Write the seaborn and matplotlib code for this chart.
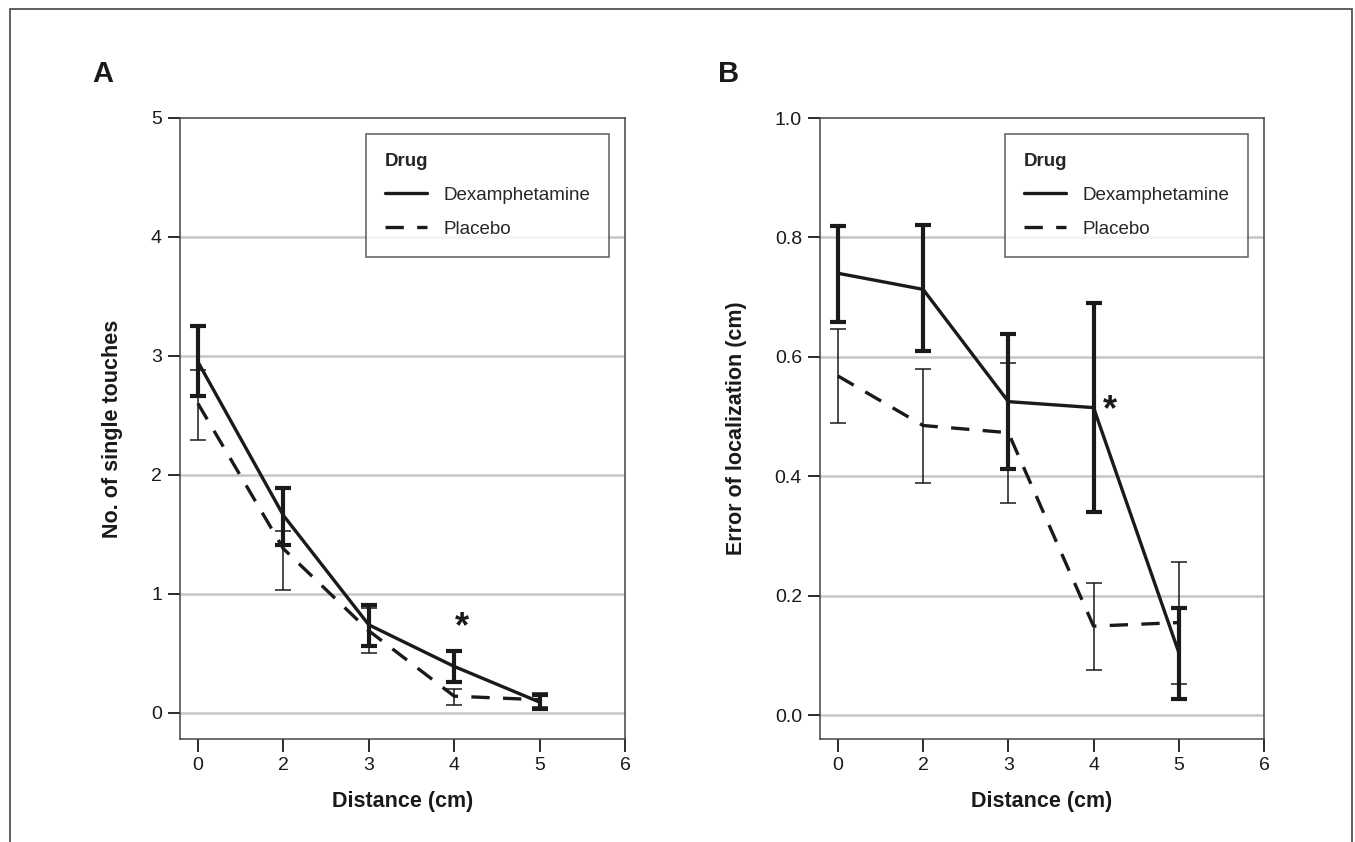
import matplotlib.pyplot as plt
import matplotlib.patches as mpatches
import pandas as pd
import numpy as np
import seaborn as sns

# categories (distance in cm); the axis shows 0,2,3,4,5,6 at evenly spaced positions
tick_labels = ["0", "2", "3", "4", "5", "6"]
distances = ["0", "2", "3", "4", "5"]
drugs = ["Dexamphetamine", "Placebo"]

# Panel A: no. of single touches (mean, upper, lower)
a_dex_mean = [2.95, 1.66, 0.74, 0.39, 0.09]
a_dex_hi = [3.25, 1.89, 0.91, 0.52, 0.15]
a_dex_lo = [2.66, 1.41, 0.56, 0.26, 0.03]
a_pla_mean = [2.60, 1.38, 0.69, 0.14, 0.11]
a_pla_hi = [2.88, 1.53, 0.88, 0.20, 0.17]
a_pla_lo = [2.29, 1.03, 0.50, 0.07, 0.05]

# Panel B: error of localization (cm)
b_dex_mean = [0.74, 0.713, 0.525, 0.515, 0.105]
b_dex_hi = [0.819, 0.82, 0.638, 0.691, 0.18]
b_dex_lo = [0.658, 0.609, 0.413, 0.34, 0.027]
b_pla_mean = [0.568, 0.485, 0.473, 0.149, 0.155]
b_pla_hi = [0.646, 0.58, 0.59, 0.222, 0.257]
b_pla_lo = [0.49, 0.388, 0.356, 0.076, 0.052]

sns.set_theme(style="white")
plt.rcParams['font.family'] = ['Liberation Sans', 'DejaVu Sans']

INK = '#1a1a1a'


def make_df(dex_mean, dex_hi, dex_lo, pla_mean, pla_hi, pla_lo):
    rows = []
    for i, d in enumerate(distances):
        rows.append(dict(pos=i, dist=d, Drug="Dexamphetamine", mean=dex_mean[i], hi=dex_hi[i], lo=dex_lo[i]))
        rows.append(dict(pos=i, dist=d, Drug="Placebo", mean=pla_mean[i], hi=pla_hi[i], lo=pla_lo[i]))
    return pd.DataFrame(rows)


df_a = make_df(a_dex_mean, a_dex_hi, a_dex_lo, a_pla_mean, a_pla_hi, a_pla_lo)
df_b = make_df(b_dex_mean, b_dex_hi, b_dex_lo, b_pla_mean, b_pla_hi, b_pla_lo)

fig = plt.figure(figsize=(13.55, 8.42), dpi=100)
fig.patches.append(mpatches.Rectangle((10 / 1355, -0.05), 1342 / 1355, 1.05 - 9 / 842,
                                      transform=fig.transFigure, fill=False,
                                      edgecolor='#444444', linewidth=1.2))

ax_a = fig.add_axes([180 / 1355, 1 - 739 / 842, 445 / 1355, 621 / 842])
ax_b = fig.add_axes([820 / 1355, 1 - 739 / 842, 444 / 1355, 621 / 842])

err_style = {"Dexamphetamine": dict(elinewidth=3.0, capsize=5.5, capthick=3.0),
             "Placebo": dict(elinewidth=1.1, capsize=5.5, capthick=1.1)}


def draw(ax, df, ylim, yticks, ytl, ylabel, star_xy):
    ax.set_axisbelow(True)
    for y in yticks[:-1]:
        ax.axhline(y, color='#c6c6c6', lw=1.8, zorder=0)
    sns.lineplot(data=df, x='pos', y='mean', style='Drug', style_order=drugs,
                 dashes={"Dexamphetamine": "", "Placebo": (5.5, 4)},
                 color=INK, lw=2.4, ax=ax, legend=True, errorbar=None)
    for drug in drugs:
        sub = df[df.Drug == drug]
        ax.errorbar(sub.pos, sub['mean'],
                    yerr=[sub['mean'] - sub.lo, sub.hi - sub['mean']],
                    fmt='none', ecolor=INK, zorder=3, **err_style[drug])
    ax.set_xlim(-0.21, 5)
    ax.set_ylim(*ylim)
    ax.set_xticks(range(len(tick_labels)))
    ax.set_xticklabels(tick_labels)
    ax.set_yticks(yticks)
    ax.set_yticklabels(ytl)
    ax.tick_params(axis='both', which='both', direction='out', length=9, width=1.3,
                   color=INK, labelsize=14, left=True, bottom=True, pad=4,
                   labelcolor=INK)
    for s in ax.spines.values():
        s.set_color('#444444')
        s.set_linewidth(1.1)
    ax.set_xlabel("Distance (cm)", fontsize=15.5, fontweight='bold', color=INK, labelpad=12)
    ax.set_ylabel(ylabel, fontsize=15.5, fontweight='bold', color=INK, labelpad=20)
    ax.text(star_xy[0], star_xy[1], "*", fontsize=26, fontweight='bold',
            ha='center', va='center', color=INK)
    leg = ax.legend(title="Drug", loc='upper right', bbox_to_anchor=(0.965, 0.974),
                    frameon=True, fancybox=False, edgecolor='#333333', fontsize=13.5,
                    title_fontproperties={'weight': 'bold', 'size': 13.5},
                    handlelength=2.25, handletextpad=0.9, borderpad=1.0,
                    labelspacing=0.9, borderaxespad=0)
    leg._legend_box.align = "left"
    leg.get_frame().set_linewidth(1.1)
    for line in leg.get_lines():
        line.set_linewidth(2.4)
        line.set_color(INK)


draw(ax_a, df_a, (-0.22, 5), [0, 1, 2, 3, 4, 5], ["0", "1", "2", "3", "4", "5"],
     "No. of single touches", (3.09, 0.72))
draw(ax_b, df_b, (-0.04, 1.0), [0.0, 0.2, 0.4, 0.6, 0.8, 1.0],
     ["0.0", "0.2", "0.4", "0.6", "0.8", "1.0"], "Error of localization (cm)", (3.19, 0.51))

fig.text(92 / 1355, 1 - 74 / 842, "A", fontsize=21, fontweight='bold', ha='left', va='center', color=INK)
fig.text(718 / 1355, 1 - 74 / 842, "B", fontsize=21, fontweight='bold', ha='left', va='center', color=INK)

fig.savefig("out.png", dpi=100)
